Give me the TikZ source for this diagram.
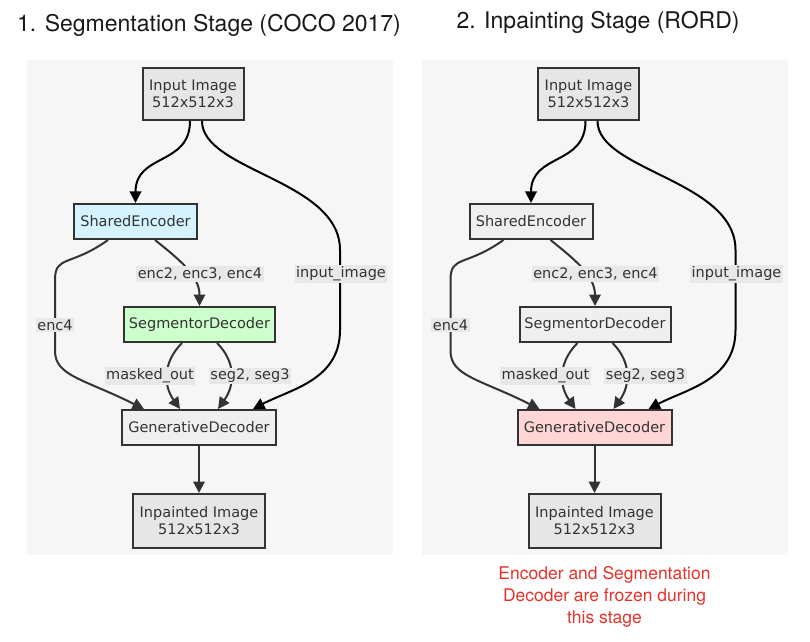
\documentclass[tikz,border=0pt]{standalone}
\usepackage{fontspec}
\setmainfont{DejaVu Sans}
\newfontfamily\titlefont{TeX Gyre Heros}
\usetikzlibrary{arrows.meta}

\definecolor{panelbg}{HTML}{F6F6F6}
\definecolor{boxline}{HTML}{333333}
\definecolor{iofill}{HTML}{E6E6E6}
\definecolor{modfill}{HTML}{EFEFEF}
\definecolor{encfill}{HTML}{D5F2FF}
\definecolor{segfill}{HTML}{CCFFCC}
\definecolor{genfill}{HTML}{FFD6D6}
\definecolor{lblfill}{HTML}{E8E8E8}
\definecolor{notered}{HTML}{E5332A}

\tikzset{
  box/.style={draw=boxline, line width=2pt, inner sep=0pt, align=center, text=boxline,
    font=\fontsize{14.5}{17}\selectfont},
  lbl/.style={fill=lblfill, inner sep=1.5pt, text=boxline, font=\fontsize{14.5}{17}\selectfont},
  edge/.style={draw=boxline, line width=2pt, -{Triangle[length=11.5pt,width=11.5pt]}},
}

\begin{document}
\begin{tikzpicture}[x=1pt,y=1pt]
  \useasboundingbox (0,0) rectangle (810,641);

  % titles
  \node[font=\titlefont\fontsize{23}{27}\selectfont, text=black!90] (titleA) at (209,616) {1. Segmentation Stage (COCO 2017)};
  \node[font=\titlefont\fontsize{23}{27}\selectfont, text=black!90] (titleB) at (598,619) {2. Inpainting Stage (RORD)};

  % backgrounds
  \fill[panelbg] (27,86) rectangle (393,581);
  \fill[panelbg] (422,86) rectangle (788,581);

  % stage 1
  \node[box, fill=iofill, minimum width=101pt, minimum height=52pt] (inA) at (193,547) {Input Image\\512x512x3};
  \node[box, fill=encfill, minimum width=123pt, minimum height=35pt] (encA) at (135.5,419.5) {SharedEncoder};
  \node[box, fill=segfill, minimum width=151pt, minimum height=35pt] (segA) at (199.5,316.5) {SegmentorDecoder};
  \node[box, fill=modfill, minimum width=154pt, minimum height=35pt] (genA) at (199,213.5) {GenerativeDecoder};
  \node[box, fill=iofill, minimum width=132pt, minimum height=54pt] (outA) at (199,120) {Inpainted Image\\512x512x3};

  \draw[edge, draw=black] ([xshift=-3pt]inA.south) .. controls +(0,-45) and +(0,50) .. (encA.north);
  \draw[edge, draw=black] ([xshift=9pt]inA.south) .. controls +(0,-50) and +(0,70) .. (340,391)
    -- (340,311) .. controls +(0,-50) and +(38,20) .. ([xshift=-24pt]genA.north east);
  \draw[edge] ([xshift=-27.5pt]encA.south) .. controls +(-38,-27) and +(0,25) .. (55,361)
    -- (55,290) .. controls +(0,-25) and +(-60,30) .. ([xshift=23pt]genA.north west);
  \draw[edge] ([xshift=19.5pt]encA.south) .. controls +(25,-20) and +(0,30) .. (segA.north);
  \draw[edge] ([xshift=-17.5pt]segA.south) .. controls +(-19,-19) and +(-17,24) .. ([xshift=-19pt]genA.north);
  \draw[edge] ([xshift=17.5pt]segA.south) .. controls +(19,-19) and +(17,24) .. ([xshift=19pt]genA.north);
  \draw[edge] (genA.south) -- (outA.north);

  \node[lbl] (lEncA) at (200,367) {enc2, enc3, enc4};
  \node[lbl] (lImgA) at (341,367) {input\_image};
  \node[lbl] (lEnc4A) at (55,316) {enc4};
  \node[lbl] (lMaskA) at (150,265) {masked\_out};
  \node[lbl] (lSegA) at (250,265) {seg2, seg3};

  % stage 2
  \begin{scope}[xshift=395.5pt]
    \node[box, fill=iofill, minimum width=101pt, minimum height=52pt] (inB) at (193,547) {Input Image\\512x512x3};
    \node[box, fill=modfill, minimum width=123pt, minimum height=35pt] (encB) at (135.5,419.5) {SharedEncoder};
    \node[box, fill=modfill, minimum width=151pt, minimum height=35pt] (segB) at (199.5,316.5) {SegmentorDecoder};
    \node[box, fill=genfill, minimum width=154pt, minimum height=35pt] (genB) at (199,213.5) {GenerativeDecoder};
    \node[box, fill=iofill, minimum width=132pt, minimum height=54pt] (outB) at (199,120) {Inpainted Image\\512x512x3};

    \draw[edge, draw=black] ([xshift=-3pt]inB.south) .. controls +(0,-45) and +(0,50) .. (encB.north);
    \draw[edge, draw=black] ([xshift=9pt]inB.south) .. controls +(0,-50) and +(0,70) .. (340,391)
      -- (340,311) .. controls +(0,-50) and +(38,20) .. ([xshift=-24pt]genB.north east);
    \draw[edge] ([xshift=-27.5pt]encB.south) .. controls +(-38,-27) and +(0,25) .. (55,361)
      -- (55,290) .. controls +(0,-25) and +(-60,30) .. ([xshift=23pt]genB.north west);
    \draw[edge] ([xshift=19.5pt]encB.south) .. controls +(25,-20) and +(0,30) .. (segB.north);
    \draw[edge] ([xshift=-17.5pt]segB.south) .. controls +(-19,-19) and +(-17,24) .. ([xshift=-19pt]genB.north);
    \draw[edge] ([xshift=17.5pt]segB.south) .. controls +(19,-19) and +(17,24) .. ([xshift=19pt]genB.north);
    \draw[edge] (genB.south) -- (outB.north);

    \node[lbl] (lEncB) at (200,367) {enc2, enc3, enc4};
    \node[lbl] (lImgB) at (341,367) {input\_image};
    \node[lbl] (lEnc4B) at (55,316) {enc4};
    \node[lbl] (lMaskB) at (150,265) {masked\_out};
    \node[lbl] (lSegB) at (250,265) {seg2, seg3};
  \end{scope}

  % note
  \node[align=center, text=notered, font=\titlefont\fontsize{17.5}{22}\selectfont] (note) at (604.5,44)
    {Encoder and Segmentation\\Decoder are frozen during\\this stage};
\end{tikzpicture}
\end{document}
